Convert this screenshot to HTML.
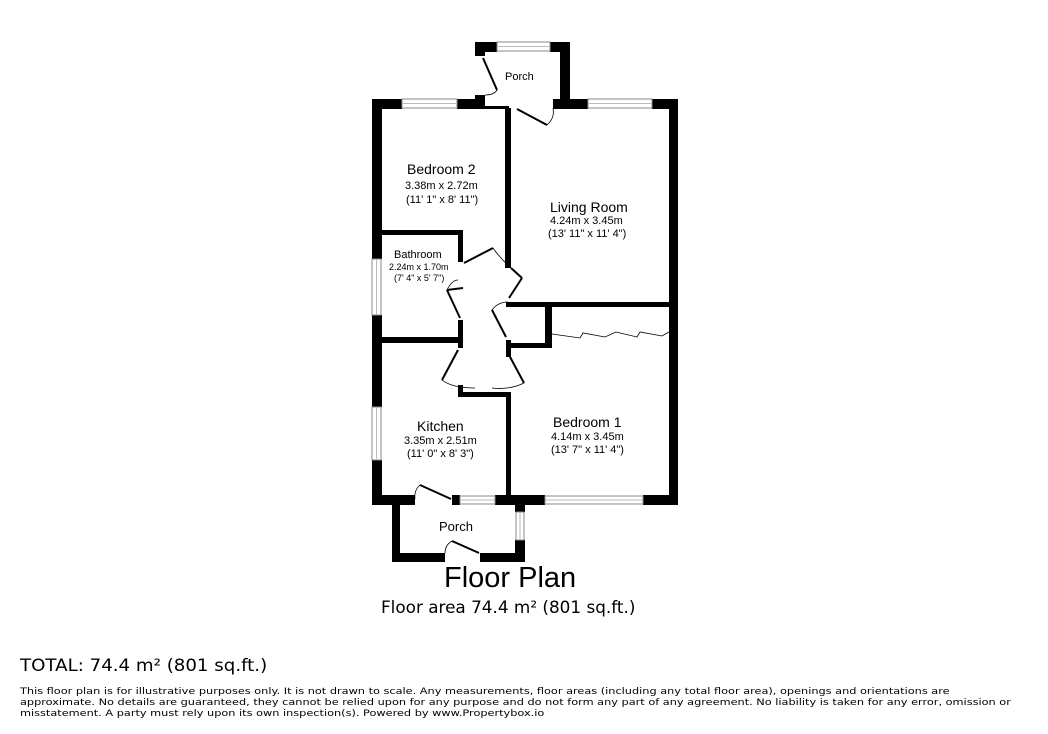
<!DOCTYPE html>
<html><head><style>
body{margin:0;background:#fff;width:1048px;height:734px;overflow:hidden;font-family:"Liberation Sans",Arial,sans-serif}
svg{position:absolute;left:0;top:0}
.t{position:absolute;color:#000;white-space:nowrap}
.d{font-family:"DejaVu Sans",sans-serif;transform-origin:0 0}
</style></head><body>
<svg width="1048" height="734" viewBox="0 0 1048 734">
<g fill="#000">
<rect x="475" y="42" width="22" height="10"/><rect x="550" y="42" width="20" height="10"/>
<rect x="475" y="42" width="10" height="14"/><rect x="560" y="42" width="10" height="66"/>
<rect x="475" y="95" width="10" height="14"/>
<rect x="372" y="99" width="30" height="10"/><rect x="457" y="99" width="28" height="10"/>
<rect x="553" y="99" width="35" height="10"/><rect x="652" y="99" width="26" height="10"/>
<rect x="485" y="106" width="24" height="3"/>
<rect x="372" y="99" width="10" height="160"/><rect x="372" y="315" width="10" height="92"/><rect x="372" y="460" width="10" height="45"/>
<rect x="669" y="99" width="9" height="406"/>
<rect x="505" y="108" width="6" height="160"/>
<rect x="382" y="230" width="81" height="5"/><rect x="458" y="230" width="5" height="32"/>
<rect x="458" y="320" width="5" height="28"/><rect x="382" y="337" width="81" height="6"/>
<rect x="506" y="302" width="163" height="5"/><rect x="545" y="302" width="7" height="46"/>
<rect x="506" y="343" width="46" height="5"/><rect x="506" y="340" width="5" height="17"/>
<rect x="458" y="385" width="5" height="12"/><rect x="458" y="392" width="52" height="5"/>
<rect x="506" y="392" width="5" height="108"/>
<rect x="372" y="495" width="43" height="10"/><rect x="452" y="495" width="8" height="10"/>
<rect x="495" y="495" width="50" height="10"/><rect x="643" y="495" width="35" height="10"/>
<rect x="392" y="505" width="8" height="57"/><rect x="392" y="553" width="53" height="9"/>
<rect x="480" y="553" width="45" height="9"/><rect x="515" y="505" width="10" height="7"/><rect x="515" y="540" width="10" height="22"/>
</g>
<g fill="#fff" stroke="#888" stroke-width="1">
<rect x="497" y="42" width="53" height="9"/><rect x="402" y="99" width="55" height="9"/>
<rect x="588" y="99" width="64" height="9"/><rect x="372" y="259" width="9" height="56"/>
<rect x="372" y="407" width="9" height="53"/><rect x="460" y="496" width="35" height="8"/>
<rect x="545" y="496" width="98" height="8"/><rect x="516" y="512" width="8" height="28"/>
</g>
<g stroke="#bbb" stroke-width="1"><line x1="497" y1="46.5" x2="550" y2="46.5"/><line x1="402" y1="103.5" x2="457" y2="103.5"/><line x1="588" y1="103.5" x2="652" y2="103.5"/><line x1="376.5" y1="259" x2="376.5" y2="315"/><line x1="376.5" y1="407" x2="376.5" y2="460"/><line x1="460" y1="500" x2="495" y2="500"/><line x1="545" y1="500" x2="643" y2="500"/><line x1="520" y1="512" x2="520" y2="540"/></g>
<g stroke="#000" stroke-width="2" fill="none">
<line x1="483" y1="58" x2="497" y2="90"/><line x1="517" y1="109" x2="547" y2="125"/>
<line x1="464" y1="263" x2="493" y2="248"/><line x1="511" y1="268" x2="522" y2="278"/><line x1="522" y1="278" x2="509" y2="298"/>
<line x1="463" y1="288" x2="447" y2="290"/><line x1="447" y1="290" x2="460" y2="318"/>
<line x1="492" y1="310" x2="506" y2="337"/><line x1="458" y1="350" x2="442" y2="380"/>
<line x1="509" y1="355" x2="524" y2="383"/><line x1="420" y1="485" x2="451" y2="499"/>
<line x1="452" y1="541" x2="479" y2="553"/>
</g>
<g stroke="#000" stroke-width="0.8" fill="none">
<path d="M485 95 Q494 95 497 90"/><path d="M547 125 Q555 118 553 108"/>
<path d="M493 248 Q500 258 511 268"/><path d="M447 290 Q452 280 458 280"/>
<path d="M492 310 Q498 302 508 302"/><path d="M442 380 Q452 388 475 388"/><path d="M524 383 Q510 390 492 388"/>
<path d="M420 485 Q414 490 415 499"/><path d="M452 541 Q445 545 445 553"/>
<path d="M552 334 L580 338 L583 333 L605 337 L616 332 L637 337 L640 332 L662 336 L669 332"/>
</g>
</svg>
<div class="t" style="left:407px;top:161px;font-size:14px">Bedroom 2</div>
<div class="t" style="left:405px;top:180px;font-size:11px">3.38m x 2.72m</div>
<div class="t" style="left:406px;top:194px;font-size:11px">(11' 1" x 8' 11")</div>
<div class="t" style="left:550px;top:199px;font-size:14px">Living Room</div>
<div class="t" style="left:550px;top:215px;font-size:11px">4.24m x 3.45m</div>
<div class="t" style="left:548px;top:228px;font-size:11px">(13' 11" x 11' 4")</div>
<div class="t" style="left:394px;top:249px;font-size:11px">Bathroom</div>
<div class="t" style="left:389px;top:262px;font-size:9px">2.24m x 1.70m</div>
<div class="t" style="left:394px;top:273px;font-size:9px">(7' 4" x 5' 7")</div>
<div class="t" style="left:505px;top:71px;font-size:11px">Porch</div>
<div class="t" style="left:417px;top:418px;font-size:14px">Kitchen</div>
<div class="t" style="left:404px;top:435px;font-size:11px">3.35m x 2.51m</div>
<div class="t" style="left:407px;top:448px;font-size:11px">(11' 0" x 8' 3")</div>
<div class="t" style="left:553px;top:414px;font-size:14px">Bedroom 1</div>
<div class="t" style="left:551px;top:431px;font-size:11px">4.14m x 3.45m</div>
<div class="t" style="left:551px;top:444px;font-size:11px">(13' 7" x 11' 4")</div>
<div class="t" style="left:439px;top:519px;font-size:13px">Porch</div>
<div class="t" style="left:444px;top:562px;font-size:29px">Floor Plan</div>
<div class="t d" style="left:381px;top:598px;font-size:17px;transform:scaleX(0.99)">Floor area 74.4 m² (801 sq.ft.)</div>
<div class="t d" style="left:20px;top:656px;font-size:17px;transform:scaleX(1.07)">TOTAL: 74.4 m² (801 sq.ft.)</div>
<div class="t d" style="left:20px;top:686px;font-size:9.2px;line-height:11px;transform:scaleX(1.23)">This floor plan is for illustrative purposes only. It is not drawn to scale. Any measurements, floor areas (including any total floor area), openings and orientations are<br>approximate. No details are guaranteed, they cannot be relied upon for any purpose and do not form any part of any agreement. No liability is taken for any error, omission or<br>misstatement. A party must rely upon its own inspection(s). Powered by www.Propertybox.io</div>
</body></html>
